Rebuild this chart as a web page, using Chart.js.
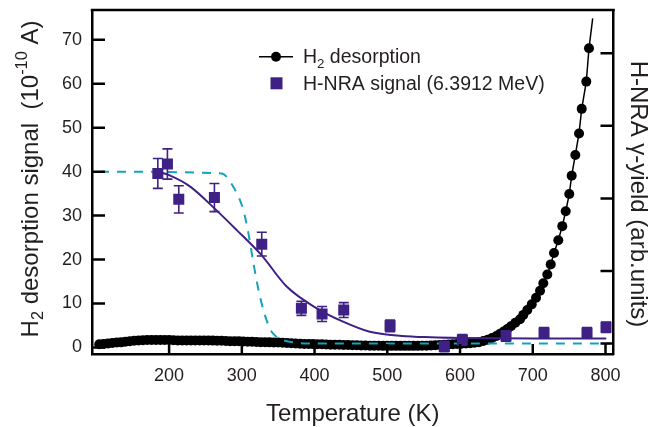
<!DOCTYPE html>
<html>
<head>
<meta charset="utf-8">
<script src="https://cdn.jsdelivr.net/npm/chart.js@4.4.1/dist/chart.umd.min.js"></script>
<style>
  body { margin: 0; background: #fff; }
  #wrap { width: 648px; height: 427px; }
</style>
</head>
<body>
<div id="wrap"><canvas id="myChart"></canvas></div>
<script>
// ticks
const xTicks = [200, 300, 400, 500, 600, 700, 800];
const yTicks = [0, 10, 20, 30, 40, 50, 60, 70];
const y2Ticks = [0, 1, 2, 3, 4];

// H2 desorption (black dots), temperature in K, signal in 1e-10 A
const h2Temp = [104,110,116,122,128,134,140,146,152,158,164,170,176,182,188,194,200,206,212,218,
  224,230,236,242,248,254,260,266,272,278,284,290,296,302,308,314,320,326,332,338,
  344,350,356,362,368,374,380,386,392,398,404,410,416,422,428,434,440,446,452,458,
  464,470,476,482,488,494,500,506,512,518,524,530,536,542,548,554,560,566,572,578,
  584,590,596,602,608,614,620,626,632,638,644,650,655,660,665,670,676,682.5,687,692.5,
  698.6,704.5,710,714.5,720,724.7,729.2,735.1,740.6,745.3,750.2,753.5,758.5,763.6,767.3,773.6,777.3,782.4];
const h2Val = [0.7,0.8,0.9,1.0,1.1,1.15,1.3,1.4,1.5,1.6,1.65,1.7,1.7,1.7,1.7,1.7,1.7,1.65,1.6,1.6,
  1.6,1.6,1.6,1.6,1.6,1.6,1.55,1.5,1.5,1.45,1.4,1.4,1.4,1.35,1.3,1.3,1.25,1.2,1.2,1.15,
  1.1,1.1,1.05,1.0,0.95,0.9,0.85,0.8,0.8,0.75,0.7,0.7,0.65,0.6,0.6,0.6,0.55,0.55,0.5,0.5,
  0.45,0.45,0.4,0.4,0.4,0.35,0.35,0.35,0.35,0.35,0.35,0.35,0.35,0.35,0.4,0.4,0.45,0.5,0.55,0.6,
  0.65,0.7,0.8,0.85,0.9,0.95,1.05,1.2,1.45,1.75,2.15,2.6,3.1,3.6,4.2,4.8,5.6,6.4,7.4,8.5,
  9.8,11.3,12.9,14.6,16.6,18.9,21.5,24.4,27.6,31.0,34.9,39.1,43.8,48.7,54.3,60.5,68.1,74.9];

// H-NRA signal (purple squares) with error bars
const nraTemp = [184.5,197.7,213.3,262.3,327.4,381.9,410.3,440.1,503.8,578.4,603.2,663.2,715.5,774.6,800.7];
const nraVal = [39.6,41.75,33.7,34.1,23.5,8.9,7.6,8.5,4.9,0.2,1.7,2.6,3.3,3.3,4.6];
const nraErr = [3.4,3.45,3.1,3.2,2.7,1.6,1.7,1.7,1.3,1.2,1.2,1.2,1.2,1.2,1.2];

// fit through the H-NRA points (solid purple)
const fitTemp = [185,200,229,262,293,327,362,403,440,476,520,560,600,700,801];
const fitVal = [40.0,39.2,36.6,31.7,26.7,21.0,13.8,8.9,5.8,3.55,2.6,2.3,2.15,2.05,2.05];

// dashed cyan step
const dashTemp = [105,272,288,302,309,316,325,334,341,352,366,390,806];
const dashVal = [40.0,39.6,36.6,31.3,26.0,19.1,11.5,6.2,3.55,2.0,1.3,0.9,0.9];

const FONT = '"Liberation Sans", Arial, Helvetica, sans-serif';
const TEXT = '#231f20';
const PURPLE = '#3f2185';
const CYAN = '#14a3b8';

function pts(xs, ys) {
    return xs.map((x, i) => ({x: x, y: ys[i]}));
}

// draw a run of text pieces, some as sub or superscript
function richWidth(ctx, parts, size) {
    let w = 0;
    parts.forEach(p => {
        const s = p.sub || p.sup ? size * 0.68 : size;
        ctx.font = s + 'px ' + FONT;
        w += ctx.measureText(p.t).width;
    });
    return w;
}
function drawRich(ctx, parts, x, y, size) {
    let cx = x;
    parts.forEach(p => {
        const s = p.sub || p.sup ? size * 0.68 : size;
        ctx.font = s + 'px ' + FONT;
        let dy = 0;
        if (p.sub) dy = size * 0.22;
        if (p.sup) dy = -size * 0.42;
        ctx.fillText(p.t, cx, y + dy);
        cx += ctx.measureText(p.t).width;
    });
}

const yTitle = [{t: 'H'}, {t: '2', sub: true}, {t: ' desorption signal  (10'}, {t: '-10', sup: true}, {t: ' A)'}];
const y2Title = [{t: 'H-NRA \u03b3-yield (arb.units)'}];
const xTitle = [{t: 'Temperature (K)'}];

const decor = {
    id: 'decor',
    beforeDatasetDraw(chart, args) {
        // error bars go under the squares
        if (args.index !== 0) return;
        const ctx = chart.ctx, sx = chart.scales.x, sy = chart.scales.y;
        ctx.save();
        ctx.strokeStyle = PURPLE;
        ctx.lineWidth = 1.6;
        nraTemp.forEach((t, i) => {
            const px = sx.getPixelForValue(t);
            const top = sy.getPixelForValue(nraVal[i] + nraErr[i]);
            const bot = sy.getPixelForValue(nraVal[i] - nraErr[i]);
            ctx.beginPath();
            ctx.moveTo(px, top); ctx.lineTo(px, bot);
            ctx.moveTo(px - 5, top); ctx.lineTo(px + 5, top);
            ctx.moveTo(px - 5, bot); ctx.lineTo(px + 5, bot);
            ctx.stroke();
        });
        ctx.restore();
    },
    afterDraw(chart) {
        const ctx = chart.ctx, a = chart.chartArea;
        const sx = chart.scales.x, sy = chart.scales.y, sy2 = chart.scales.y2;
        ctx.save();
        ctx.strokeStyle = '#000';
        ctx.lineWidth = 2.5;
        // top frame line
        ctx.beginPath();
        ctx.moveTo(a.left - 1.25, a.top); ctx.lineTo(a.right + 1.25, a.top);
        ctx.stroke();
        // inward ticks
        ctx.beginPath();
        xTicks.forEach(v => {
            const p = sx.getPixelForValue(v);
            ctx.moveTo(p, a.bottom); ctx.lineTo(p, a.bottom - 10);
        });
        yTicks.forEach(v => {
            const p = sy.getPixelForValue(v);
            ctx.moveTo(a.left, p); ctx.lineTo(a.left + 13, p);
        });
        y2Ticks.forEach(v => {
            const p = sy2.getPixelForValue(v);
            ctx.moveTo(a.right, p); ctx.lineTo(a.right - 13, p);
        });
        ctx.stroke();

        // axis titles
        ctx.fillStyle = TEXT;
        ctx.textBaseline = 'alphabetic';
        ctx.textAlign = 'left';
        let w = richWidth(ctx, xTitle, 24);
        drawRich(ctx, xTitle, (a.left + a.right) / 2 - w / 2, 420.5, 24);

        ctx.save();
        ctx.translate(37.5, 179);
        ctx.rotate(-Math.PI / 2);
        w = richWidth(ctx, yTitle, 24);
        drawRich(ctx, yTitle, -w / 2, 0, 24);
        ctx.restore();

        ctx.save();
        ctx.translate(630.5, 194);
        ctx.rotate(Math.PI / 2);
        w = richWidth(ctx, y2Title, 24);
        drawRich(ctx, y2Title, -w / 2, 0, 24);
        ctx.restore();

        // legend
        ctx.strokeStyle = '#000';
        ctx.lineWidth = 1.5;
        ctx.beginPath();
        ctx.moveTo(259, 56.7); ctx.lineTo(293, 56.7);
        ctx.stroke();
        ctx.fillStyle = '#000';
        ctx.beginPath();
        ctx.arc(276, 56.7, 5, 0, Math.PI * 2);
        ctx.fill();
        ctx.fillStyle = PURPLE;
        ctx.fillRect(270.5, 77.3, 12, 12);
        ctx.fillStyle = TEXT;
        drawRich(ctx, [{t: 'H'}, {t: '2', sub: true}, {t: ' desorption'}], 303, 63.3, 19.5);
        drawRich(ctx, [{t: 'H-NRA signal (6.3912 MeV)'}], 303, 90, 19.5);
        ctx.restore();
    }
};

// keep the plot box fixed: no extra room for half tick labels
function noPad(s) {
    s.paddingTop = 0; s.paddingBottom = 0;
    s.paddingLeft = 0; s.paddingRight = 0;
}

function load_chart() {
    const datasets = [{
        label: 'H-NRA signal (6.3912 MeV)',
        data: pts(nraTemp, nraVal),
        showLine: false,
        pointStyle: 'rect',
        pointRadius: 7.8,
        pointBorderWidth: 0,
        backgroundColor: PURPLE,
        borderColor: PURPLE,
        order: 0
    }, {
        label: 'fit',
        data: pts(fitTemp, fitVal),
        showLine: true,
        pointRadius: 0,
        borderColor: PURPLE,
        borderWidth: 2,
        cubicInterpolationMode: 'monotone',
        order: 1
    }, {
        label: 'step',
        data: pts(dashTemp, dashVal),
        showLine: true,
        pointRadius: 0,
        borderColor: CYAN,
        borderWidth: 2,
        borderDash: [9, 8],
        cubicInterpolationMode: 'monotone',
        order: 2
    }, {
        label: 'H2 desorption',
        data: pts(h2Temp, h2Val),
        showLine: true,
        borderColor: '#000',
        backgroundColor: '#000',
        borderWidth: 1.5,
        pointBorderWidth: 0,
        pointRadius: (c) => c.dataIndex === h2Temp.length - 1 ? 0 : 5,
        order: 3
    }];

    const config = {
        type: 'scatter',
        data: {datasets: datasets},
        options: {
            responsive: true,
            maintainAspectRatio: false,
            animation: false,
            layout: {padding: {top: 10, left: 0, right: 0, bottom: 0}},
            plugins: {legend: {display: false}, tooltip: {enabled: false}},
            scales: {
                x: {
                    type: 'linear', position: 'bottom', min: 94, max: 811,
                    afterBuildTicks: (s) => { s.ticks = xTicks.map(v => ({value: v})); },
                    afterFit: (s) => { s.height = 73; noPad(s); },
                    grid: {display: false, drawTicks: false},
                    border: {display: true, color: '#000', width: 2.5},
                    ticks: {color: TEXT, padding: 11, font: {family: FONT, size: 18}}
                },
                y: {
                    type: 'linear', position: 'left', min: -1.5, max: 76.8,
                    afterBuildTicks: (s) => { s.ticks = yTicks.map(v => ({value: v})); },
                    afterFit: (s) => { s.width = 92; noPad(s); },
                    grid: {display: false, drawTicks: false},
                    border: {display: true, color: '#000', width: 2.5},
                    ticks: {color: TEXT, padding: 10, font: {family: FONT, size: 18}}
                },
                y2: {
                    type: 'linear', position: 'right', min: -0.143, max: 4.596,
                    afterBuildTicks: (s) => { s.ticks = y2Ticks.map(v => ({value: v})); },
                    afterFit: (s) => { s.width = 34.5; noPad(s); },
                    grid: {display: false, drawTicks: false},
                    border: {display: true, color: '#000', width: 2.5},
                    ticks: {display: false}
                }
            }
        },
        plugins: [decor]
    };

    new Chart(document.getElementById('myChart'), config);
}

load_chart();
</script>
</body>
</html>
